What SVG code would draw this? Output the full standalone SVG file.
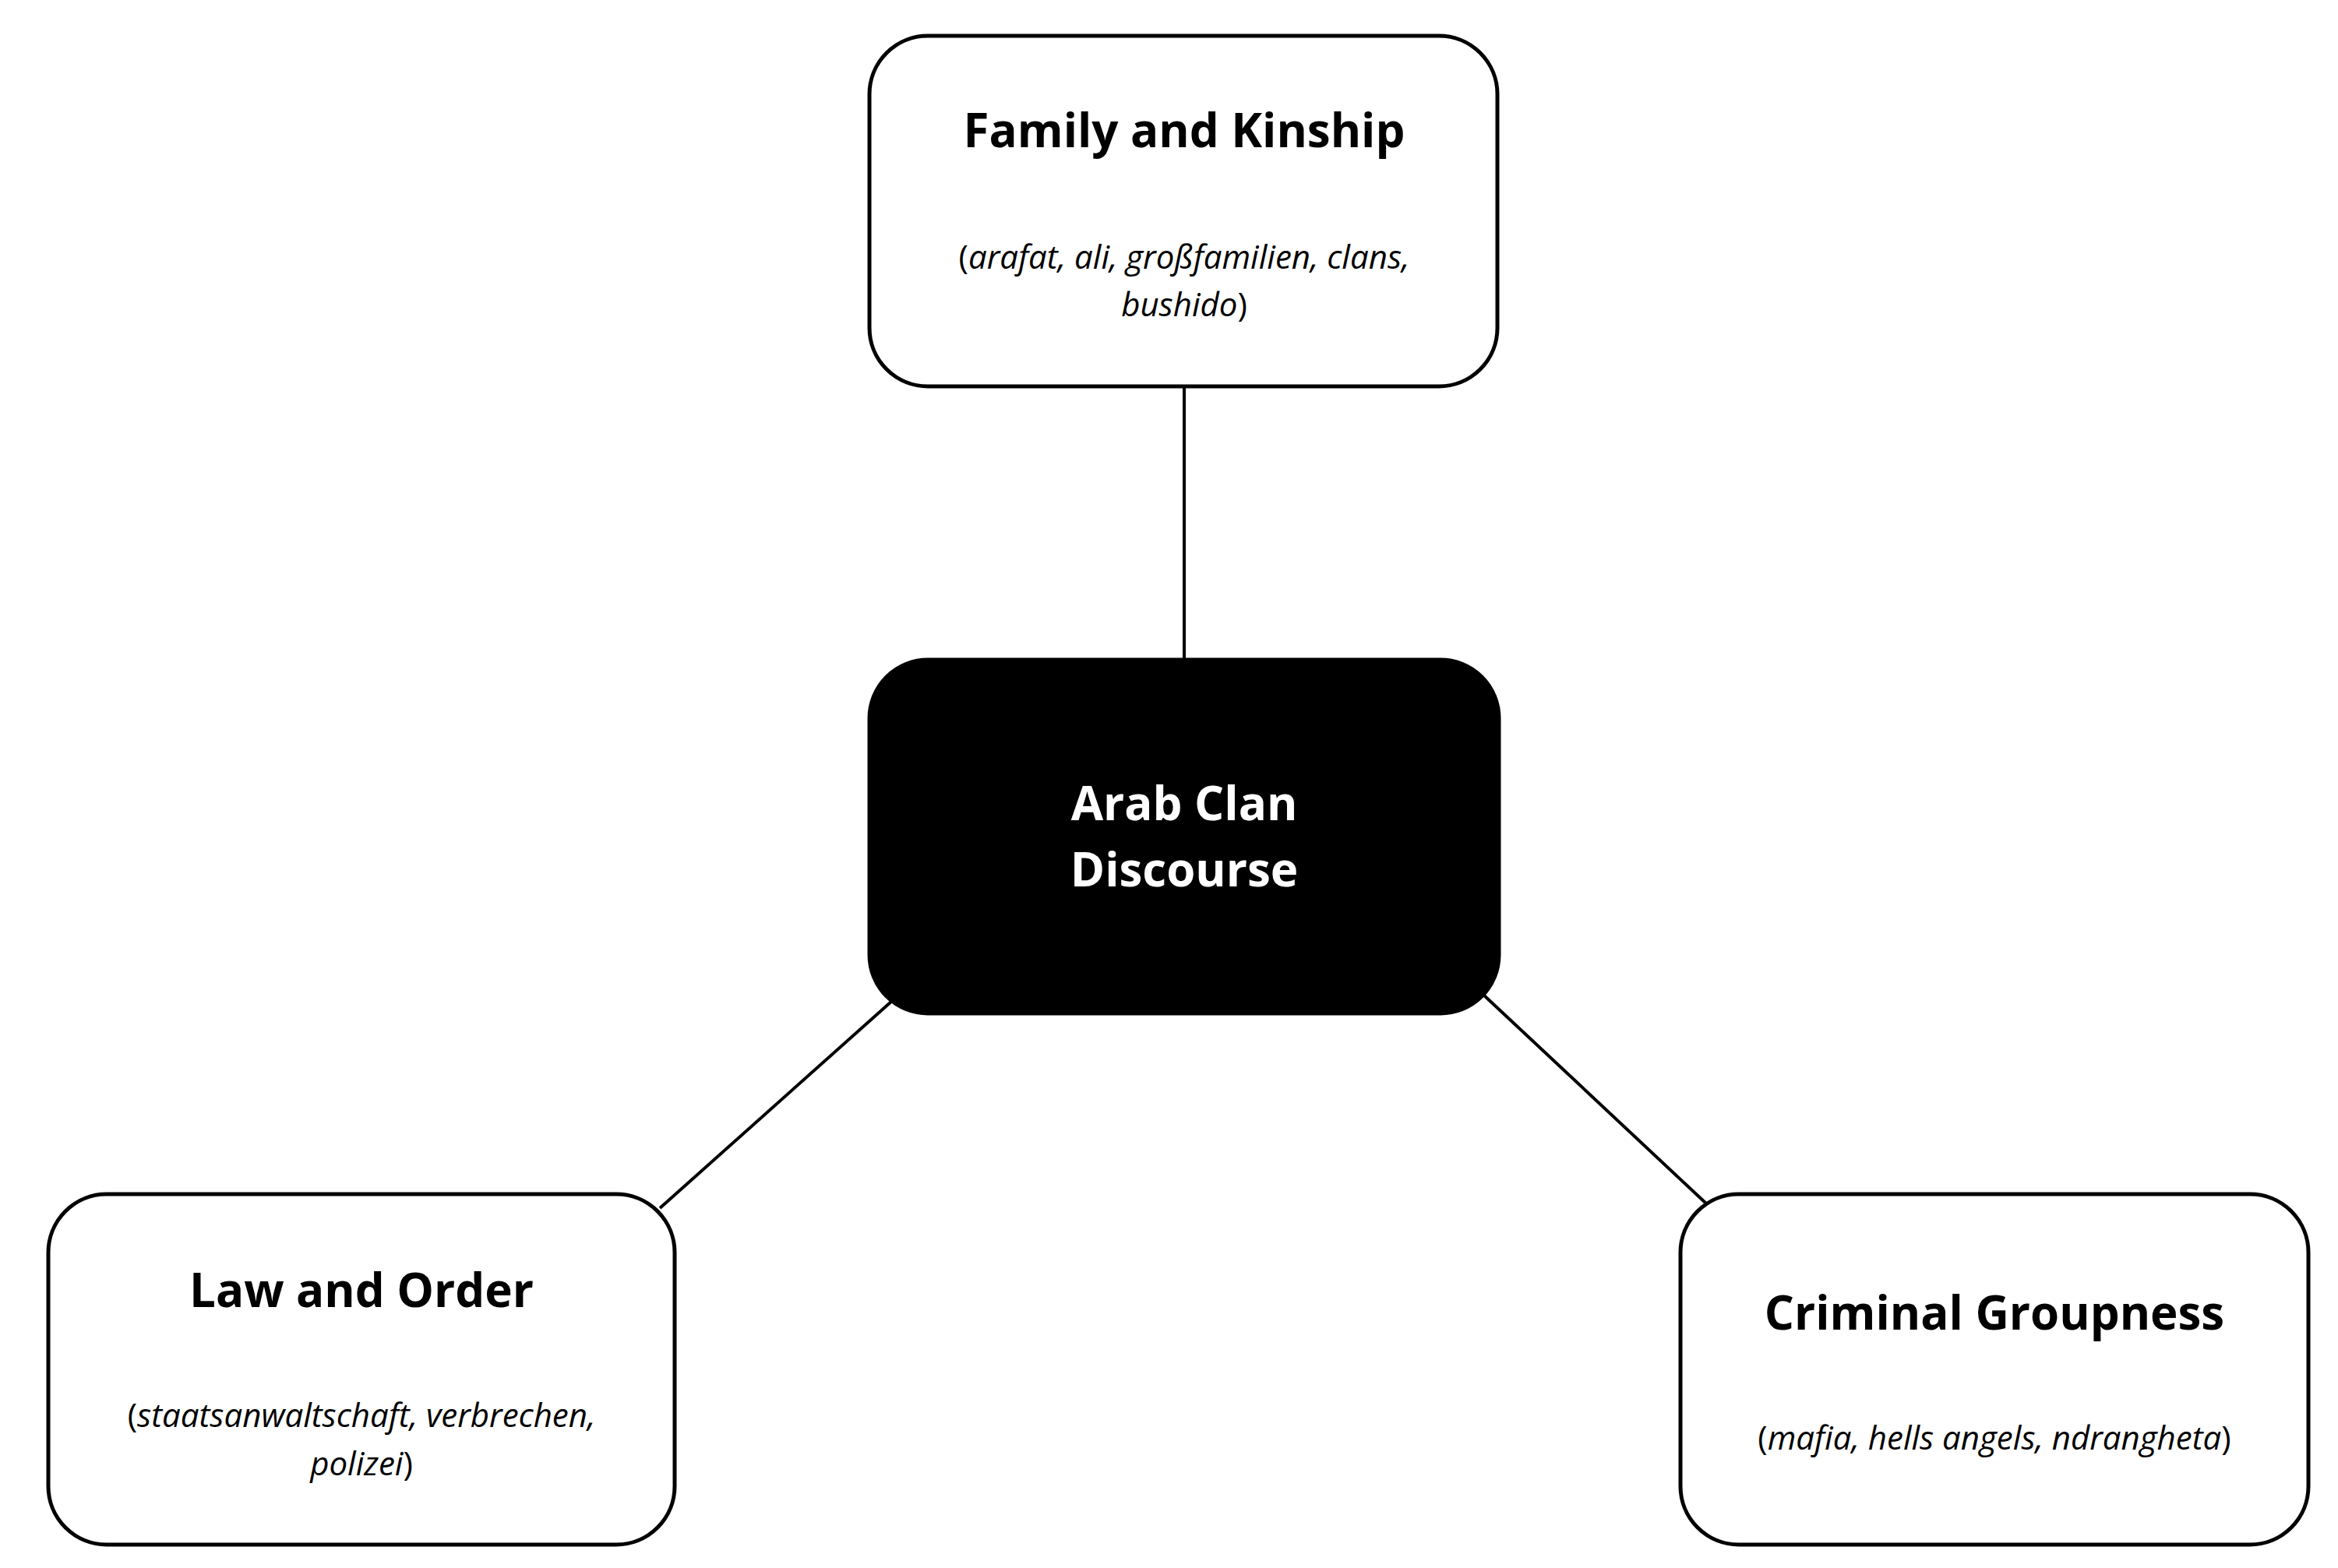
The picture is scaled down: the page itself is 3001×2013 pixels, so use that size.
<svg xmlns="http://www.w3.org/2000/svg" width="3001" height="2013" viewBox="0 0 3001 2013">
<style>
.box{fill:#fff;stroke:#000;stroke-width:5}
.dark{fill:#000;stroke:#000;stroke-width:5}
.t{font-family:"Open Sans","Noto Sans",sans-serif;font-weight:bold;font-size:60px;text-anchor:middle}
.s{font-family:"Open Sans","Noto Sans",sans-serif;font-size:42px;text-anchor:middle}
.i{font-style:italic}
.c{stroke:#000;stroke-width:4;fill:none}
</style>
<rect width="3001" height="2013" fill="#fff"/>
<g id="connectors">
<line class="c" x1="1520" y1="496" x2="1520" y2="847"/>
<line class="c" x1="1145" y1="1285" x2="847" y2="1551"/>
<line class="c" x1="1905" y1="1278" x2="2190" y2="1545"/>
</g>
<g id="family">
<rect class="box" x="1116" y="46" width="806" height="450" rx="75"/>
<text class="t" x="1520" y="189">Family and Kinship</text>
<text class="s" x="1520" y="345">(<tspan class="i">arafat, ali, großfamilien, clans,</tspan></text>
<text class="s" x="1520" y="406"><tspan class="i">bushido</tspan>)</text>
</g>
<g id="center">
<rect class="dark" x="1116" y="847" width="808" height="454" rx="75"/>
<text class="t" x="1520" y="1053" fill="#fff">Arab Clan</text>
<text class="t" x="1520" y="1138" fill="#fff">Discourse</text>
</g>
<g id="law">
<rect class="box" x="62" y="1533" width="804" height="450" rx="75"/>
<text class="t" x="464" y="1678">Law and Order</text>
<text class="s" x="464" y="1832">(<tspan class="i">staatsanwaltschaft, verbrechen,</tspan></text>
<text class="s" x="464" y="1894"><tspan class="i">polizei</tspan>)</text>
</g>
<g id="criminal">
<rect class="box" x="2157" y="1533" width="806" height="450" rx="75"/>
<text class="t" x="2560" y="1707">Criminal Groupness</text>
<text class="s" x="2560" y="1861">(<tspan class="i">mafia, hells angels, ndrangheta</tspan>)</text>
</g>
</svg>
